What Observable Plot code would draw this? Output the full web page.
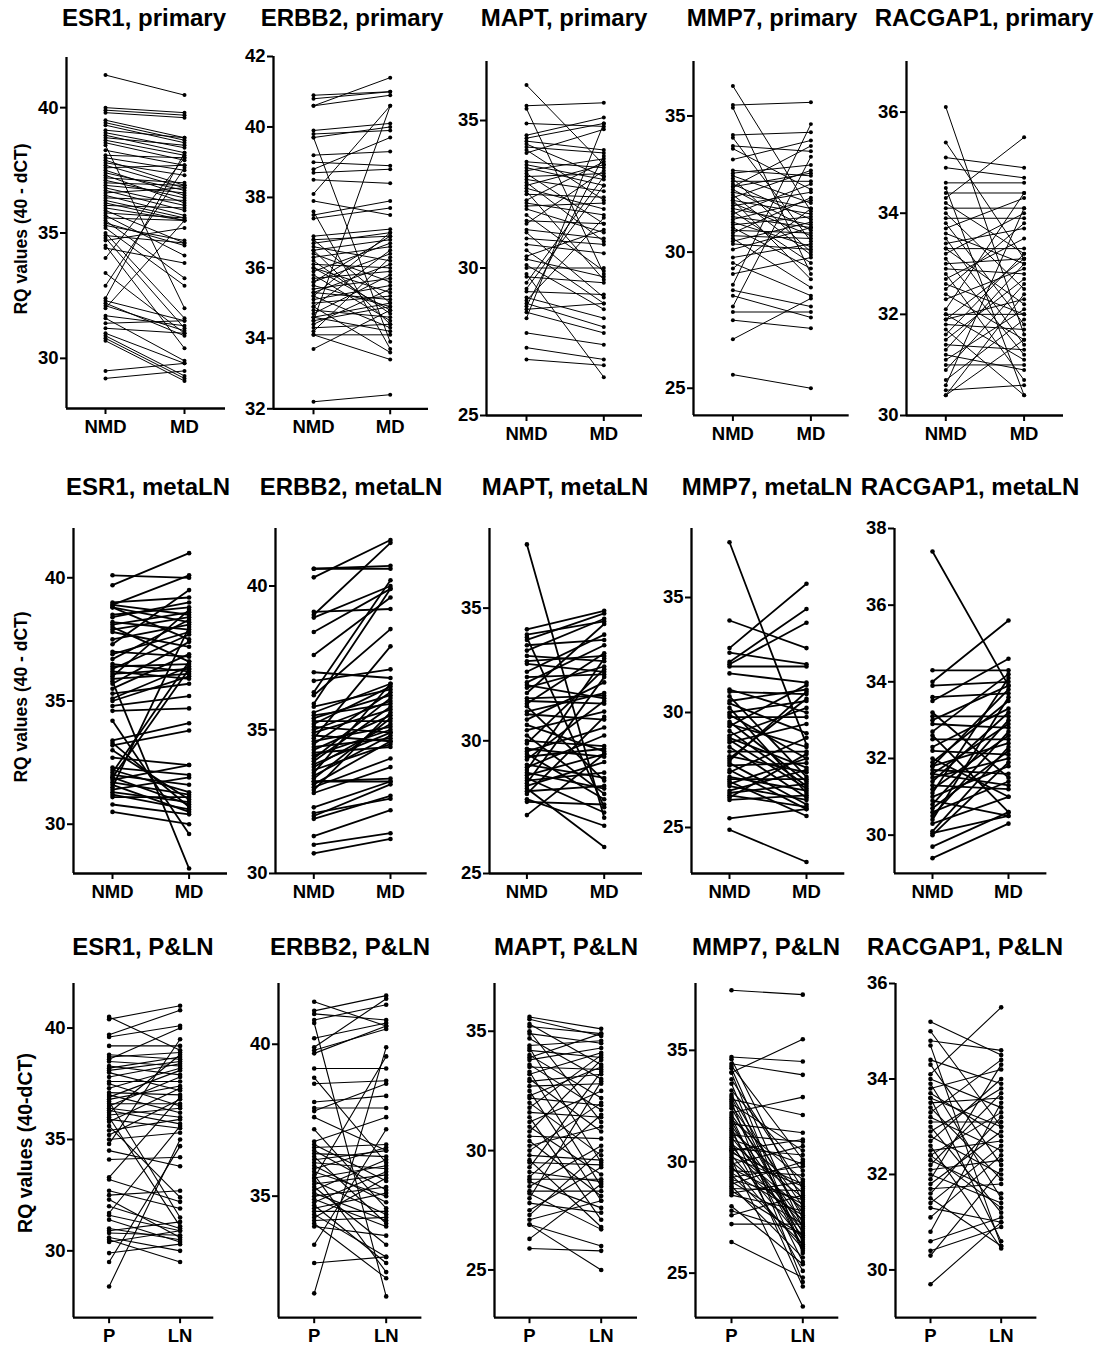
<!DOCTYPE html>
<html>
<head>
<meta charset="utf-8">
<script src="https://cdn.jsdelivr.net/npm/d3@7"></script>
<script src="https://cdn.jsdelivr.net/npm/@observablehq/plot@0.6"></script>
<style>
  body { margin: 0; background: #fff; font-family: Arial, "Liberation Sans", sans-serif; }
  #fig { position: relative; width: 1102px; height: 1345px; overflow: hidden; background: #fff; }
  #fig svg { position: absolute; }
  .title { position: absolute; font-weight: bold; font-size: 24px; white-space: nowrap; line-height: 1; transform: translateX(-50%); color: #000; }
  .ylab { position: absolute; font-weight: bold; white-space: nowrap; line-height: 1; transform: translate(-50%, -50%) rotate(-90deg); color: #000; }
</style>
</head>
<body>
<div id="fig"></div>
<script>
// ---------- categories / labels ----------
const genes = ["ESR1", "ERBB2", "MAPT", "MMP7", "RACGAP1"];
const cohorts = ["primary", "metaLN", "P&LN"];
const groupsMeta = ["NMD", "MD"];
const groupsPLN = ["P", "LN"];
const yLabels = ["RQ values (40 - dCT)", "RQ values (40 - dCT)", "RQ values (40-dCT)"];

// ---------- tick values ----------
const ticks_ESR1_primary = [30, 35, 40];
const ticks_ERBB2_primary = [32, 34, 36, 38, 40, 42];
const ticks_MAPT_primary = [25, 30, 35];
const ticks_MMP7_primary = [25, 30, 35];
const ticks_RACGAP1_primary = [30, 32, 34, 36];
const ticks_ESR1_metaLN = [30, 35, 40];
const ticks_ERBB2_metaLN = [30, 35, 40];
const ticks_MAPT_metaLN = [25, 30, 35];
const ticks_MMP7_metaLN = [25, 30, 35];
const ticks_RACGAP1_metaLN = [30, 32, 34, 36, 38];
const ticks_ESR1_PLN = [30, 35, 40];
const ticks_ERBB2_PLN = [35, 40];
const ticks_MAPT_PLN = [25, 30, 35];
const ticks_MMP7_PLN = [25, 30, 35];
const ticks_RACGAP1_PLN = [30, 32, 34, 36];

// ---------- paired values (first group, second group) ----------
const ESR1_primary_NMD = [41.3,40.0,39.9,39.8,39.5,39.4,39.3,39.1,39.0,38.9,38.8,38.7,38.6,38.5,38.3,38.1,38.0,37.9,37.8,37.7,37.6,37.5,37.4,37.3,37.2,37.1,37.0,36.9,36.8,36.7,36.6,36.5,36.4,36.3,36.2,36.1,36.0,35.9,35.8,35.7,35.6,35.5,35.4,35.3,35.2,35.0,34.9,34.8,34.7,34.5,34.4,34.0,33.4,32.9,32.4,32.3,32.2,32.1,32.0,31.7,31.6,31.4,31.2,31.0,30.9,30.8,30.7,29.5,29.2];
const ESR1_primary_MD  = [40.5,39.8,39.7,39.6,38.8,38.7,38.6,38.8,38.4,38.2,38.5,38.1,37.9,32.0,37.7,38.0,37.5,36.9,37.3,36.8,37.7,36.5,36.7,36.2,37.0,36.4,36.9,36.6,36.1,35.9,36.8,35.7,36.3,35.6,35.5,36.0,35.5,34.6,35.6,34.1,35.5,33.2,34.5,34.7,32.9,31.6,34.6,31.2,35.2,30.4,33.8,38.0,31.0,37.6,38.2,31.5,30.9,31.1,35.5,31.3,29.9,31.5,31.0,29.8,29.3,29.2,29.1,29.8,29.5];

const ERBB2_primary_NMD = [40.9,40.8,40.6,40.6,39.9,39.8,39.7,39.7,39.2,39.0,38.8,38.7,38.5,38.1,37.9,37.6,37.5,37.4,36.9,36.8,36.8,36.7,36.6,36.5,36.4,36.3,36.2,36.1,36.0,35.9,35.8,35.7,35.6,35.5,35.4,35.3,35.2,35.1,35.0,34.9,34.8,34.7,34.6,34.5,34.5,34.4,34.3,34.2,34.1,34.1,33.7,32.2,35.6,35.2,36.0,34.9,35.3,34.6,36.5];
const ERBB2_primary_MD  = [41.0,41.0,41.4,40.9,40.1,39.9,40.0,33.9,39.3,38.9,39.7,38.8,38.4,40.6,37.5,33.7,37.9,37.7,37.1,36.9,35.0,37.0,36.2,36.8,35.6,36.6,34.7,36.0,35.3,36.7,34.5,35.9,36.4,34.9,35.7,36.1,34.3,35.5,35.2,36.5,34.6,35.8,34.2,40.6,34.9,35.4,34.4,36.3,34.1,33.4,34.8,32.4,36.9,37.0,34.8,33.6,35.1,35.0,34.4];

const MAPT_primary_NMD = [36.2,35.5,35.4,34.9,34.5,34.4,34.3,34.2,34.1,34.0,33.9,33.6,33.5,33.4,33.3,33.2,33.1,33.0,32.9,32.8,32.7,32.6,32.5,32.3,32.2,32.1,32.0,31.8,31.6,31.5,31.3,31.2,31.0,30.8,30.6,30.4,30.3,30.1,30.0,29.8,29.7,29.5,29.3,29.2,29.0,28.9,28.8,28.7,28.6,28.5,28.3,27.8,27.3,26.9];
const MAPT_primary_MD  = [33.5,35.6,29.8,34.8,35.1,34.9,34.0,33.1,33.9,32.3,34.7,33.4,33.0,32.8,33.7,31.5,33.2,32.6,30.9,33.5,32.0,29.6,32.4,33.6,31.8,32.2,31.2,29.9,31.5,33.3,31.0,29.0,30.8,30.5,28.8,31.3,29.7,28.6,30.0,26.3,29.5,33.1,32.8,29.1,28.3,31.7,28.0,33.8,28.8,27.8,34.9,27.4,26.9,26.7];

const MMP7_primary_NMD = [36.1,35.4,35.3,34.3,34.2,33.9,33.8,33.4,33.0,32.9,32.8,32.7,32.6,32.5,32.4,32.3,32.2,32.1,32.0,31.9,31.8,31.7,31.6,31.5,31.4,31.3,31.2,31.1,31.0,30.9,30.8,30.7,30.6,30.5,30.4,30.3,29.8,29.6,29.4,29.2,28.8,28.6,28.4,28.0,27.8,27.5,26.8,25.5,31.9,32.4,30.1];
const MMP7_primary_MD  = [31.5,35.5,29.2,34.4,30.4,33.7,32.3,34.1,32.8,33.2,31.8,30.0,32.6,31.2,32.9,30.8,31.6,29.9,33.0,31.4,30.6,32.2,31.0,29.6,32.5,30.9,31.9,30.2,31.3,29.4,30.7,32.0,30.5,28.7,31.1,30.1,30.3,28.4,31.6,29.8,34.7,28.0,27.6,33.5,27.8,27.2,28.3,25.0,29.0,33.9,30.9];

const RACGAP1_primary_NMD = [36.1,35.4,35.1,34.9,34.6,34.5,34.4,34.3,34.2,34.1,34.0,33.9,33.8,33.7,33.6,33.5,33.4,33.3,33.3,33.2,33.1,33.0,32.9,32.8,32.7,32.6,32.5,32.4,32.3,32.1,32.0,32.0,31.9,31.9,31.8,31.7,31.6,31.5,31.4,31.3,31.2,31.1,31.0,30.9,30.7,30.6,30.5,30.4,30.4];
const RACGAP1_primary_MD  = [31.6,33.1,34.9,34.7,34.6,30.4,34.4,35.5,33.2,34.1,32.5,33.9,31.8,34.3,33.0,31.4,33.7,33.3,32.2,34.0,31.2,33.1,32.8,30.7,33.5,32.0,33.8,31.5,32.9,34.4,32.0,31.1,33.1,32.3,31.7,30.4,33.2,32.7,31.3,33.0,30.9,32.1,31.0,32.6,31.9,34.1,30.6,32.4,31.5];

const ESR1_metaLN_NMD = [40.1,39.7,39.0,38.9,38.9,38.8,38.8,38.5,38.4,38.2,38.1,38.0,37.9,37.8,37.5,37.3,37.0,36.9,36.7,36.5,36.4,36.3,36.2,36.1,36.0,35.9,35.8,35.7,35.5,35.3,35.1,35.0,34.8,34.6,34.2,33.4,33.2,33.0,32.7,32.3,32.1,32.0,31.9,31.8,31.7,31.6,31.5,31.4,31.3,31.2,31.1,30.8,30.5,32.2,31.9,33.3];
const ESR1_metaLN_MD  = [40.0,41.0,39.2,38.5,40.1,38.2,37.5,38.8,39.0,37.9,38.6,36.6,38.4,37.2,38.1,39.5,36.8,37.8,38.3,36.2,36.5,37.7,35.9,36.3,38.7,36.1,28.2,37.4,36.9,35.7,36.4,36.0,35.2,34.7,29.6,34.1,33.8,31.0,32.4,32.0,36.6,31.6,30.8,32.4,31.2,30.5,38.0,31.9,30.9,30.6,31.1,30.4,30.0,31.3,36.3,30.7];

const ERBB2_metaLN_NMD = [40.6,40.6,40.3,39.1,39.0,38.9,38.4,37.6,37.0,36.7,36.3,36.2,35.9,35.8,35.6,35.5,35.4,35.3,35.2,35.1,35.0,34.9,34.8,34.7,34.6,34.5,34.4,34.3,34.2,34.1,34.0,33.9,33.8,33.7,33.6,33.5,33.4,33.3,33.2,33.1,33.0,32.9,32.8,32.3,32.0,31.9,32.1,31.3,31.0,30.7,33.2];
const ERBB2_metaLN_MD  = [40.7,40.6,41.6,39.2,41.5,40.0,39.9,39.6,36.8,37.1,40.2,38.5,39.9,36.4,36.6,35.9,36.2,35.3,36.5,34.9,36.0,35.7,34.6,37.9,35.1,36.3,34.7,35.5,34.4,35.0,36.1,35.8,34.9,35.2,34.5,36.6,34.8,35.4,33.3,34.6,34.0,35.6,33.7,33.2,33.1,32.7,32.6,32.2,31.4,31.2,33.2];

const MAPT_metaLN_NMD = [37.4,34.2,34.0,33.9,33.8,33.6,33.4,33.2,33.0,32.9,32.6,32.4,32.2,32.1,32.0,31.8,31.6,31.5,31.4,31.3,31.1,31.0,30.8,30.6,30.4,30.2,30.0,29.9,29.7,29.6,29.5,29.4,29.3,29.1,29.0,28.9,28.8,28.7,28.6,28.5,28.4,28.3,28.2,28.1,28.0,27.8,27.7,27.2];
const MAPT_metaLN_MD  = [27.1,34.9,34.5,27.5,34.8,33.8,34.6,33.0,33.2,32.6,34.0,32.5,33.6,31.6,32.8,34.4,31.7,31.4,33.3,28.5,31.8,30.8,32.2,29.6,31.1,28.0,29.8,32.7,29.4,30.5,27.8,29.7,31.5,28.6,30.2,33.1,28.2,29.5,27.3,28.8,32.4,29.2,26.0,28.3,30.9,26.8,27.6,29.5];

const MMP7_metaLN_NMD = [37.4,34.0,32.8,32.6,32.2,32.1,32.0,31.7,31.0,30.9,30.7,30.5,30.4,30.2,30.0,29.9,29.8,29.6,29.4,29.2,29.0,28.9,28.7,28.5,28.3,28.1,28.0,27.8,27.7,27.5,27.4,27.2,27.1,27.0,26.9,26.8,26.6,26.5,26.4,26.3,26.2,25.4,24.9,27.9,28.8,29.5];
const MMP7_metaLN_MD  = [28.6,32.8,35.6,32.1,34.5,33.9,32.0,31.3,30.0,30.8,27.2,31.0,29.1,26.5,30.5,28.0,29.8,27.0,31.2,26.8,30.2,27.6,29.5,26.3,28.3,27.4,30.6,26.0,27.8,25.8,28.9,26.6,27.1,25.5,28.0,26.2,27.5,26.9,25.9,28.2,26.4,25.8,23.5,30.9,26.7,28.5];

const RACGAP1_metaLN_NMD = [37.4,34.3,34.0,33.9,33.6,33.5,33.2,33.1,33.0,32.9,32.7,32.6,32.5,32.3,32.0,31.9,31.8,31.8,31.7,31.6,31.5,31.4,31.3,31.2,31.1,31.0,30.9,30.8,30.7,30.6,30.5,30.4,30.3,30.1,30.05,30.0,29.7,29.4,31.6,32.2];
const RACGAP1_metaLN_MD  = [33.9,34.3,35.6,34.0,33.7,34.6,31.5,33.1,33.9,32.8,34.2,30.6,32.5,33.3,31.0,33.5,32.4,33.8,31.6,32.9,32.0,33.2,31.2,32.6,34.1,31.8,30.5,33.0,32.2,31.4,32.7,33.6,31.0,32.3,30.5,31.9,30.6,30.3,31.3,32.1];

const ESR1_PLN_P  = [40.5,40.4,39.7,39.6,39.2,38.8,38.7,38.6,38.5,38.3,38.2,38.1,38.0,37.8,37.6,37.5,37.3,37.1,37.0,36.9,36.8,36.7,36.6,36.5,36.4,36.3,36.2,36.1,36.0,35.9,35.8,35.6,35.4,35.2,35.0,34.8,34.5,34.1,33.3,33.2,32.7,32.5,32.3,32.0,31.7,31.6,31.4,31.0,30.9,30.8,30.6,30.5,30.4,29.9,29.5,28.4];
const ESR1_PLN_LN = [39.0,41.0,40.8,40.1,39.2,38.6,38.9,40.0,38.3,37.9,38.7,38.5,37.2,38.4,37.6,36.5,38.2,37.0,36.2,38.1,37.4,31.5,36.6,37.8,36.0,35.7,38.8,36.4,31.1,35.5,37.3,32.4,35.9,36.8,35.3,39.5,33.8,34.2,36.9,32.2,31.9,32.7,30.6,31.0,35.6,30.9,30.4,30.5,31.3,30.7,30.0,29.5,30.9,30.3,34.7,35.0];

const ERBB2_PLN_P  = [41.4,41.1,41.0,40.8,40.7,40.2,39.9,39.8,39.7,39.2,38.9,38.7,38.1,37.9,37.8,37.6,37.2,36.8,36.7,36.6,36.5,36.4,36.3,36.2,36.1,36.0,35.9,35.8,35.7,35.6,35.5,35.4,35.3,35.2,35.1,35.0,34.9,34.8,34.7,34.6,34.5,34.4,34.3,34.2,34.1,34.0,33.4,32.8,31.8,35.6];
const ERBB2_PLN_LN = [40.6,41.6,40.8,41.3,31.7,40.7,41.5,40.5,40.6,39.2,36.1,38.8,38.3,37.9,38.7,36.5,34.6,37.6,35.5,36.7,35.2,36.3,34.1,36.5,35.9,34.8,36.6,35.0,32.5,36.0,34.4,35.7,33.4,36.2,34.2,35.3,34.0,35.8,32.8,35.1,34.5,33.0,35.6,34.3,32.3,33.7,37.2,33.0,39.9,39.6];

const MAPT_PLN_P  = [35.6,35.5,35.3,35.2,35.0,34.9,34.7,34.4,34.3,34.2,34.0,33.8,33.6,33.5,33.3,33.2,33.0,32.9,32.7,32.5,32.3,32.2,32.0,31.8,31.6,31.4,31.2,31.0,30.8,30.6,30.4,30.2,30.0,29.8,29.6,29.5,29.3,29.1,28.9,28.8,28.7,28.5,28.3,28.2,28.0,27.8,27.5,27.3,27.1,26.9,26.3,25.9,26.9,33.9];
const MAPT_PLN_LN = [35.1,34.8,33.6,34.9,31.2,34.5,33.0,34.6,29.5,33.9,32.2,34.3,31.7,33.4,28.5,34.1,30.8,33.2,32.8,27.9,33.5,31.9,29.8,34.0,31.4,27.1,32.5,29.0,33.8,30.5,28.1,31.0,32.0,29.6,26.8,29.4,33.3,28.7,31.5,28.8,27.6,30.2,28.3,26.7,32.9,27.4,29.3,30.0,27.9,26.0,28.6,25.8,25.0,34.9];

const MMP7_PLN_P  = [37.7,34.7,34.6,34.4,34.3,34.2,34.0,33.7,33.5,33.2,33.0,32.9,32.7,32.6,32.5,32.4,32.2,32.1,32.0,31.9,31.8,31.7,31.6,31.5,31.4,31.3,31.2,31.1,31.0,30.9,30.8,30.7,30.6,30.5,30.4,30.3,30.2,30.1,30.0,29.9,29.8,29.7,29.6,29.5,29.4,29.3,29.2,29.1,29.0,28.9,28.8,28.7,28.6,28.5,28.0,27.8,27.6,27.2,26.4,34.0,32.8,30.5];
const MMP7_PLN_LN = [37.5,34.5,28.2,33.9,30.1,27.0,26.0,28.8,25.9,29.6,27.5,26.4,24.6,30.5,28.0,26.8,32.9,27.7,25.5,29.2,26.2,31.3,27.3,24.4,28.6,26.6,30.9,27.1,29.9,25.1,28.4,26.9,30.3,27.9,29.0,26.5,28.9,23.5,27.4,30.7,26.1,28.1,29.4,27.6,26.3,29.8,28.3,27.2,30.0,25.7,28.7,26.7,29.1,27.8,25.4,26.8,28.5,27.2,24.8,35.5,32.1,31.0];

const RACGAP1_PLN_P  = [35.2,35.0,34.8,34.7,34.4,34.3,34.1,34.0,33.9,33.8,33.7,33.6,33.5,33.4,33.3,33.2,33.1,33.0,32.9,32.8,32.7,32.6,32.5,32.4,32.3,32.2,32.1,32.0,31.9,31.8,31.7,31.6,31.5,31.4,31.3,31.1,30.8,30.6,30.4,30.3,29.7,33.6,32.4];
const RACGAP1_PLN_LN = [34.5,33.0,34.6,30.5,33.9,32.2,35.5,33.4,31.5,34.2,32.8,30.6,33.6,31.9,34.4,32.5,33.1,31.2,33.8,32.0,34.0,30.45,32.7,33.3,31.6,33.7,32.3,31.4,34.3,32.9,31.8,33.2,30.5,32.6,31.0,32.4,33.5,31.1,30.9,32.1,31.0,33.0,31.3];

// ---------- panel table (built from the arrays above) ----------
const panels = [
  {gene:"ESR1",    cohort:0, a:ESR1_primary_NMD,    b:ESR1_primary_MD,    ticks:ticks_ESR1_primary},
  {gene:"ERBB2",   cohort:0, a:ERBB2_primary_NMD,   b:ERBB2_primary_MD,   ticks:ticks_ERBB2_primary},
  {gene:"MAPT",    cohort:0, a:MAPT_primary_NMD,    b:MAPT_primary_MD,    ticks:ticks_MAPT_primary},
  {gene:"MMP7",    cohort:0, a:MMP7_primary_NMD,    b:MMP7_primary_MD,    ticks:ticks_MMP7_primary},
  {gene:"RACGAP1", cohort:0, a:RACGAP1_primary_NMD, b:RACGAP1_primary_MD, ticks:ticks_RACGAP1_primary},
  {gene:"ESR1",    cohort:1, a:ESR1_metaLN_NMD,     b:ESR1_metaLN_MD,     ticks:ticks_ESR1_metaLN},
  {gene:"ERBB2",   cohort:1, a:ERBB2_metaLN_NMD,    b:ERBB2_metaLN_MD,    ticks:ticks_ERBB2_metaLN},
  {gene:"MAPT",    cohort:1, a:MAPT_metaLN_NMD,     b:MAPT_metaLN_MD,     ticks:ticks_MAPT_metaLN},
  {gene:"MMP7",    cohort:1, a:MMP7_metaLN_NMD,     b:MMP7_metaLN_MD,     ticks:ticks_MMP7_metaLN},
  {gene:"RACGAP1", cohort:1, a:RACGAP1_metaLN_NMD,  b:RACGAP1_metaLN_MD,  ticks:ticks_RACGAP1_metaLN},
  {gene:"ESR1",    cohort:2, a:ESR1_PLN_P,          b:ESR1_PLN_LN,        ticks:ticks_ESR1_PLN},
  {gene:"ERBB2",   cohort:2, a:ERBB2_PLN_P,         b:ERBB2_PLN_LN,       ticks:ticks_ERBB2_PLN},
  {gene:"MAPT",    cohort:2, a:MAPT_PLN_P,          b:MAPT_PLN_LN,        ticks:ticks_MAPT_PLN},
  {gene:"MMP7",    cohort:2, a:MMP7_PLN_P,          b:MMP7_PLN_LN,        ticks:ticks_MMP7_PLN},
  {gene:"RACGAP1", cohort:2, a:RACGAP1_PLN_P,       b:RACGAP1_PLN_LN,     ticks:ticks_RACGAP1_PLN}
];

// ---------- layout (pixel geometry, scale extents, styles) ----------
const layout = [
  {x0:66,    x1:225,    y0:57,    y1:408,   c:[105,184],     dom:[28,42], tx:144},
  {x0:273.3, x1:428.3,  y0:56,    y1:408.3, c:[313.3,390],   dom:[32,42], tx:352},
  {x0:486,   x1:642,    y0:61,    y1:415,   c:[526,603.3],   dom:[25,37], tx:564},
  {x0:693.3, x1:849,    y0:61,    y1:415,   c:[732.7,810.7], dom:[24,37], tx:772},
  {x0:905.7, x1:1062.7, y0:61,    y1:415,   c:[945,1023.3],  dom:[30,37], tx:984},
  {x0:72.7,  x1:226.7,  y0:527.7, y1:872.7, c:[111.7,188.3], dom:[28,42], tx:148},
  {x0:275,   x1:426.7,  y0:527.7, y1:872.7, c:[313.3,390],   dom:[30,42], tx:351},
  {x0:489.3, x1:642.3,  y0:527.7, y1:872.7, c:[526.7,604],   dom:[25,38], tx:565},
  {x0:690.7, x1:844,    y0:527.7, y1:872.7, c:[728.7,805.7], dom:[23,38], tx:767},
  {x0:894.3, x1:1046.7, y0:527.7, y1:872.7, c:[932.3,1008.3],dom:[29,38], tx:970},
  {x0:72.7,  x1:213,    y0:983.3, y1:1317.5,c:[108.3,179.3], dom:[27,42], tx:143},
  {x0:278.3, x1:421.7,  y0:983.3, y1:1317.5,c:[314,386],     dom:[31,42], tx:350},
  {x0:494.3, x1:637.3,  y0:983.3, y1:1317.5,c:[529.3,601],   dom:[23,37], tx:566},
  {x0:695,   x1:838.3,  y0:983.3, y1:1317.5,c:[731,802.3],   dom:[23,38], tx:766},
  {x0:895.3, x1:1036.7, y0:983.3, y1:1317.5,c:[930.3,1001],  dom:[29,36], tx:965}
];
const rowStyle = [
  {sw:1.0, r:2.0, baseline:26.7},
  {sw:1.8, r:2.3, baseline:495.7},
  {sw:1.1, r:2.3, baseline:955}
];
const yLabelPos = [{x:21.5, y:229, fs:17.5}, {x:22, y:697, fs:17.5}, {x:25.5, y:1143, fs:19.5}];

const fig = document.getElementById("fig");
const mL = 55, mR = 12, mT = 12, mB = 40;

panels.forEach((p, k) => {
  const L = layout[k];
  const rs = rowStyle[p.cohort];
  const cats = p.cohort === 2 ? groupsPLN : groupsMeta;
  const W = L.x1 - L.x0, H = L.y1 - L.y0;
  const p1 = L.c[0] - L.x0, step = L.c[1] - L.c[0];
  const xDom = [-p1 / step, (W - p1) / step];
  const n = Math.min(p.a.length, p.b.length);
  const rows = [];
  for (let i = 0; i < n; i++) {
    rows.push({id: i, k: 0, v: p.a[i]});
    rows.push({id: i, k: 1, v: p.b[i]});
  }
  const svg = Plot.plot({
    width: W + mL + mR,
    height: H + mT + mB,
    marginLeft: mL, marginRight: mR, marginTop: mT, marginBottom: mB,
    style: {background: "transparent", fontFamily: "Arial, 'Liberation Sans', sans-serif", fontWeight: "bold", overflow: "visible", color: "#000"},
    x: {domain: xDom, axis: null},
    y: {domain: L.dom, axis: null},
    marks: [
      Plot.line(rows, {x: "k", y: "v", z: "id", stroke: "#000", strokeWidth: rs.sw}),
      Plot.dot(rows, {x: "k", y: "v", r: rs.r, fill: "#000", stroke: null}),
      Plot.ruleX([xDom[0]], {stroke: "#000", strokeWidth: 2.3}),
      Plot.ruleY([L.dom[0]], {stroke: "#000", strokeWidth: 2.3}),
      Plot.axisY(p.ticks, {anchor: "left", tickSize: 6, tickPadding: 2, strokeWidth: 2, fontSize: 18.5, fontWeight: "bold", tickFormat: d => String(d), label: null}),
      Plot.axisX([0, 1], {anchor: "bottom", tickSize: 6, tickPadding: 5, strokeWidth: 2, fontSize: 18.5, fontWeight: "bold", tickFormat: i => cats[i], label: null})
    ]
  });
  svg.style.left = (L.x0 - mL) + "px";
  svg.style.top = (L.y0 - mT) + "px";
  fig.appendChild(svg);

  // title
  const t = document.createElement("div");
  t.className = "title";
  t.textContent = p.gene + ", " + cohorts[p.cohort];
  t.style.left = L.tx + "px";
  t.style.top = (rs.baseline - 20.3) + "px";
  fig.appendChild(t);
});

// y-axis titles
yLabels.forEach((txt, r) => {
  const d = document.createElement("div");
  d.className = "ylab";
  d.textContent = txt;
  d.style.left = yLabelPos[r].x + "px";
  d.style.top = yLabelPos[r].y + "px";
  d.style.fontSize = yLabelPos[r].fs + "px";
  fig.appendChild(d);
});
</script>
</body>
</html>
